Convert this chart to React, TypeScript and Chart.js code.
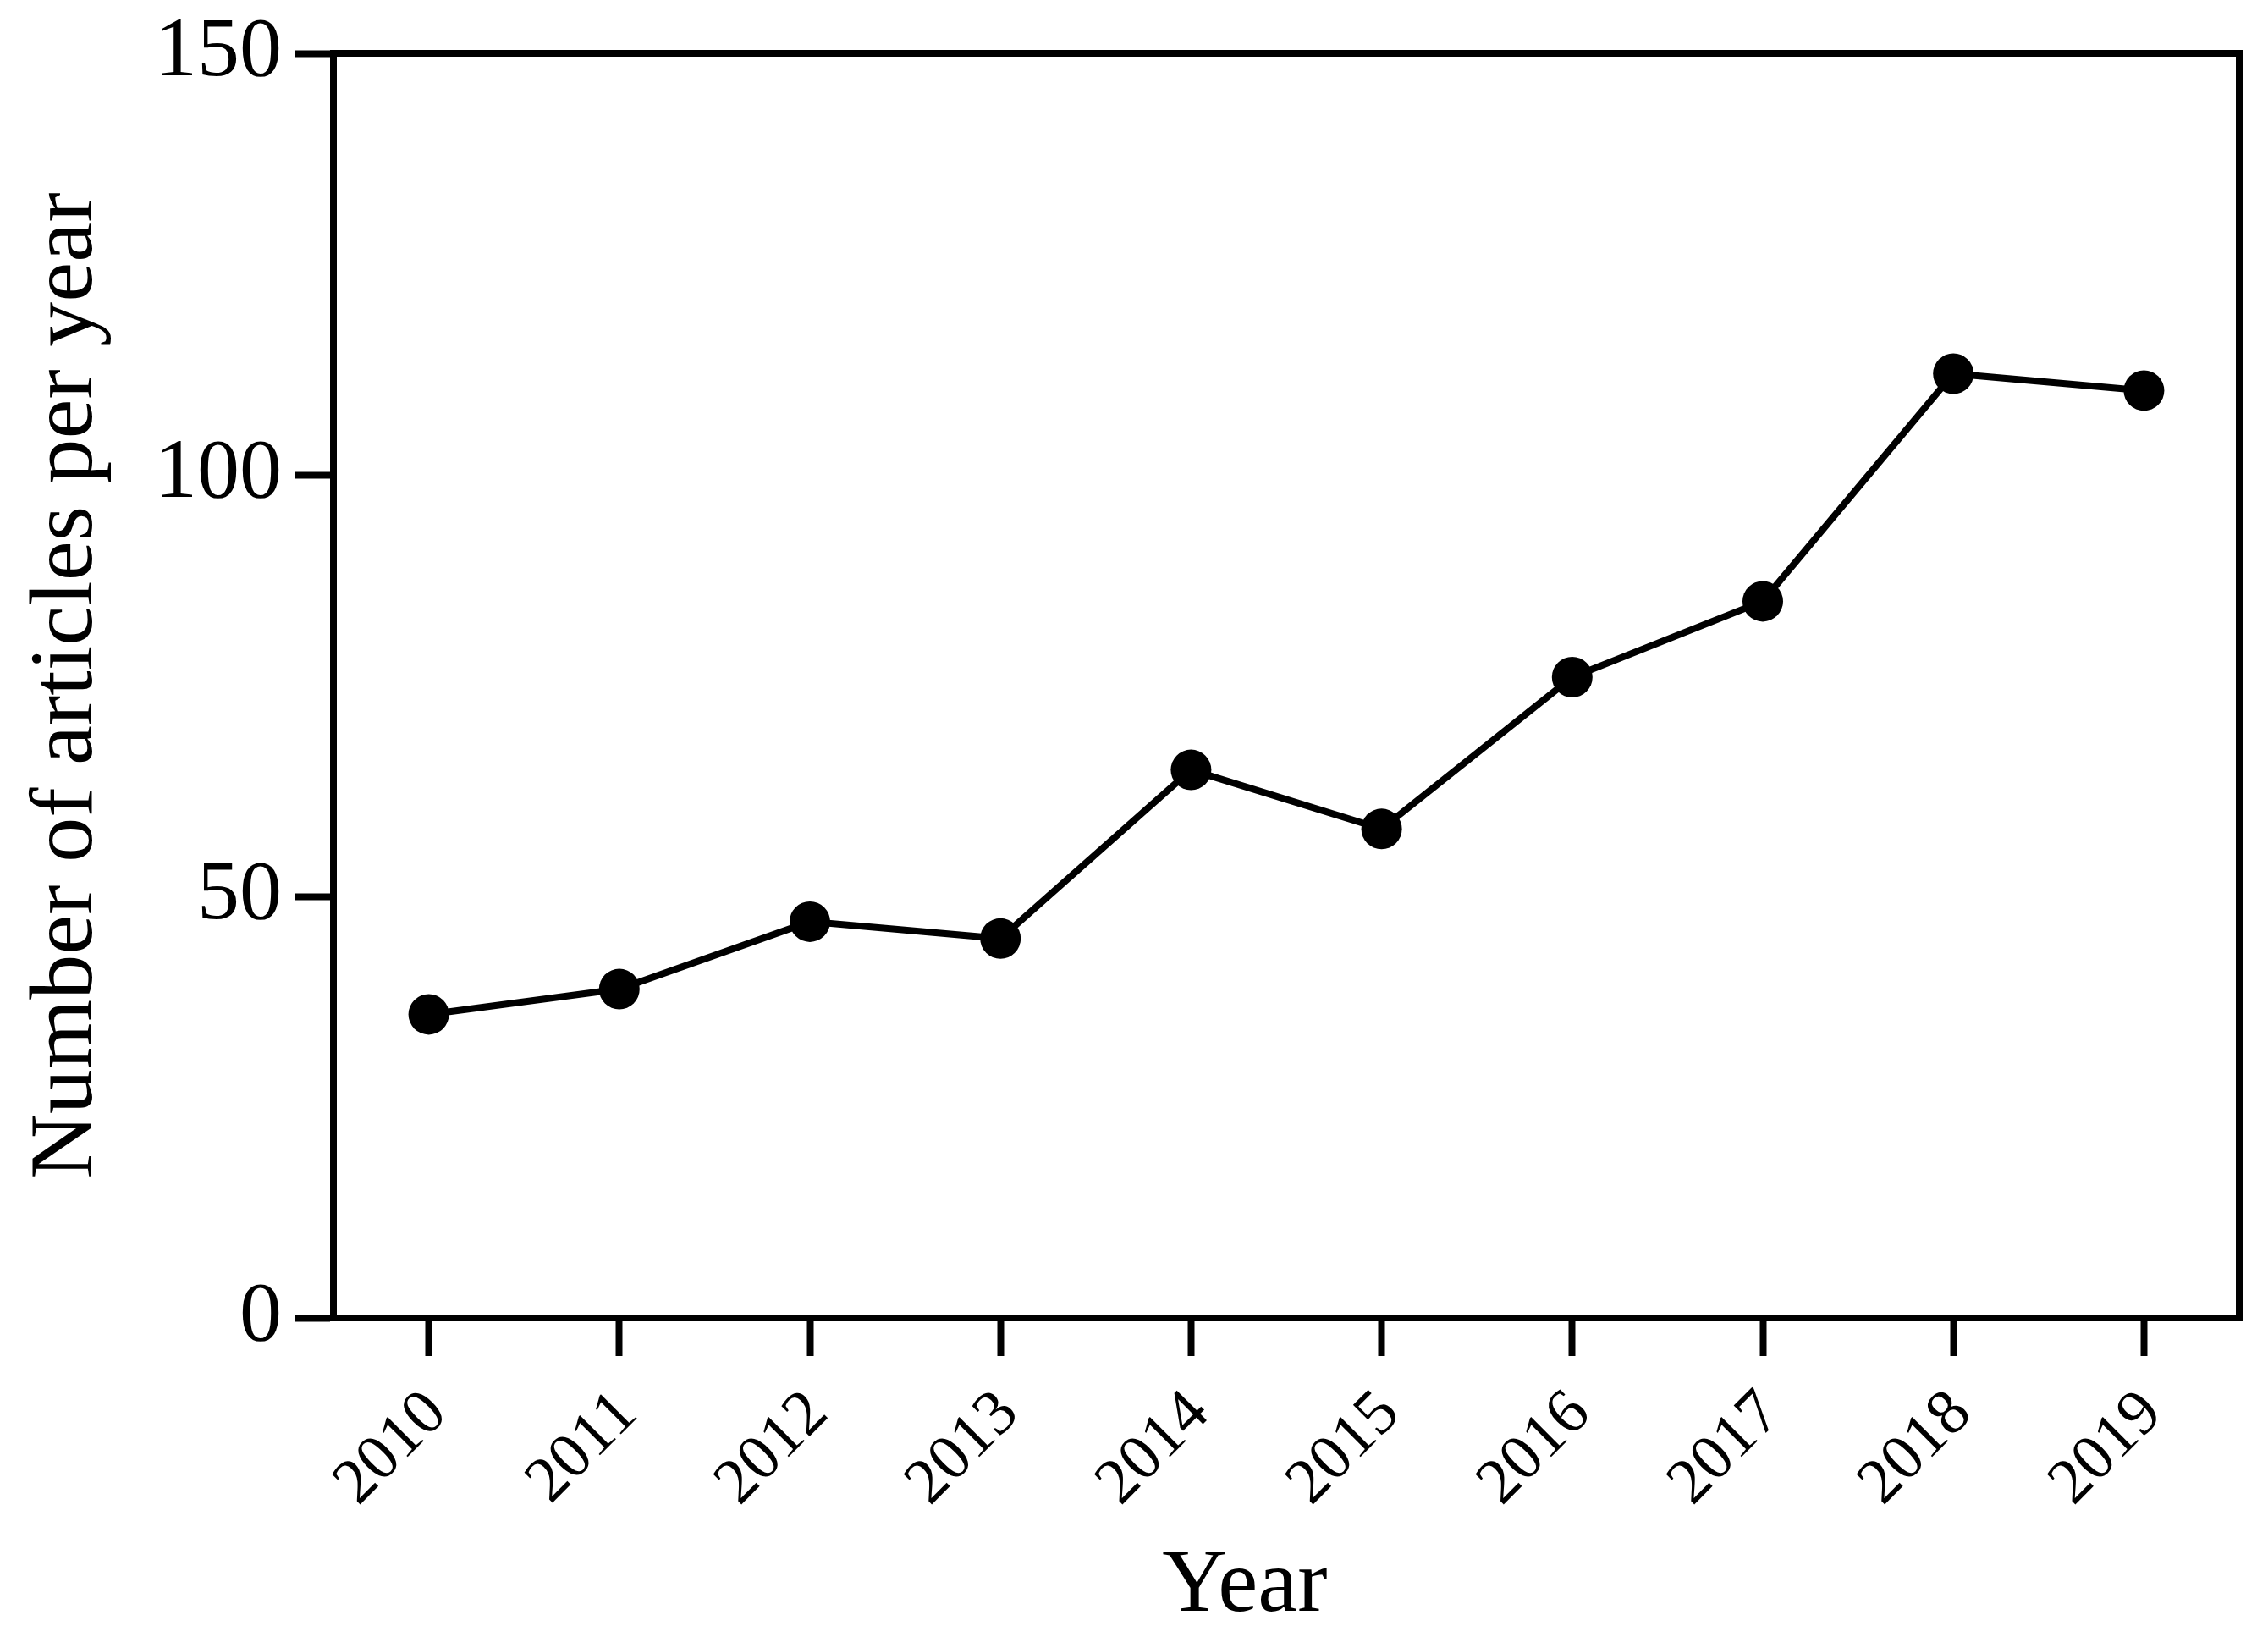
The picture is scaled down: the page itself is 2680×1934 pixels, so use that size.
import { useEffect, useRef } from 'react';
import { Chart, registerables } from 'chart.js';

Chart.register(...registerables);

const years = ['2010', '2011', '2012', '2013', '2014', '2015', '2016', '2017', '2018', '2019'];
const articles = [36, 39, 47, 45, 65, 58, 76, 85, 112, 110];
const yTickValues = [0, 50, 100, 150];

const xTitle = 'Year';
const yTitle = 'Number of articles per year';

const FONT = "'Liberation Serif', 'Times New Roman', serif";
const W = 2680;
const H = 1934;

export default function App() {
  const ref = useRef<HTMLCanvasElement>(null);

  useEffect(() => {
    if (!ref.current) return;

    const framePlugin = {
      id: 'frame',
      afterDraw(chart: any) {
        const { ctx, chartArea } = chart;
        ctx.save();
        ctx.strokeStyle = '#000';
        ctx.lineWidth = 8;
        ctx.lineJoin = 'miter';
        ctx.strokeRect(chartArea.left, chartArea.top, chartArea.right - chartArea.left, chartArea.bottom - chartArea.top);
        // x-axis title
        ctx.fillStyle = '#000';
        ctx.font = `106px ${FONT}`;
        ctx.textAlign = 'center';
        ctx.textBaseline = 'alphabetic';
        ctx.fillText(xTitle, (chartArea.left + chartArea.right) / 2 - 49, 1903);
        ctx.restore();
      },
    };

    const chart = new Chart(ref.current, {
      type: 'line',
      data: {
        labels: years,
        datasets: [
          {
            data: articles,
            borderColor: '#000',
            borderWidth: 8,
            backgroundColor: '#000',
            pointBackgroundColor: '#000',
            pointBorderWidth: 0,
            pointRadius: 24,
            pointHoverRadius: 24,
            tension: 0,
            fill: false,
          },
        ],
      },
      options: {
        responsive: false,
        animation: false,
        events: [],
        layout: { padding: { top: 63, right: 34, bottom: 0, left: 0 } },
        plugins: {
          legend: { display: false },
          tooltip: { enabled: false },
          title: { display: false },
        },
        scales: {
          x: {
            type: 'category',
            offset: true,
            border: { display: true, color: '#000', width: 8 },
            grid: {
              display: true,
              drawOnChartArea: false,
              drawTicks: true,
              tickLength: 45,
              tickWidth: 8,
              tickColor: '#000',
              offset: false,
            },
            ticks: {
              color: '#000',
              font: { family: FONT, size: 76 },
              minRotation: 45,
              maxRotation: 45,
              padding: 24,
              labelOffset: 10,
              autoSkip: false,
            },
            title: { display: false },
            afterFit(scale: any) {
              scale.height = H - 1557;
              scale.paddingLeft = 0;
              scale.paddingRight = 0;
            },
          },
          y: {
            min: 0,
            max: 150,
            border: { display: true, color: '#000', width: 8 },
            grid: {
              display: true,
              drawOnChartArea: false,
              drawTicks: true,
              tickLength: 45,
              tickWidth: 8,
              tickColor: '#000',
            },
            ticks: {
              color: '#000',
              font: { family: FONT, size: 100 },
              padding: 16,
            },
            afterBuildTicks(scale: any) {
              scale.ticks = yTickValues.map((v) => ({ value: v }));
            },
            title: {
              display: true,
              text: yTitle,
              color: '#000',
              font: { family: FONT, size: 106 },
              padding: { top: 17, bottom: 0 },
            },
            afterFit(scale: any) {
              scale.width = 394;
              scale.paddingTop = 0;
              scale.paddingBottom = 0;
            },
          },
        },
      },
      plugins: [framePlugin],
    });

    return () => {
      chart.destroy();
    };
  }, []);

  return (
    <div style={{ position: 'fixed', left: 0, top: 0, width: W, height: H, background: '#fff' }}>
      <canvas ref={ref} width={W} height={H} style={{ display: 'block', width: W, height: H }} />
    </div>
  );
}
